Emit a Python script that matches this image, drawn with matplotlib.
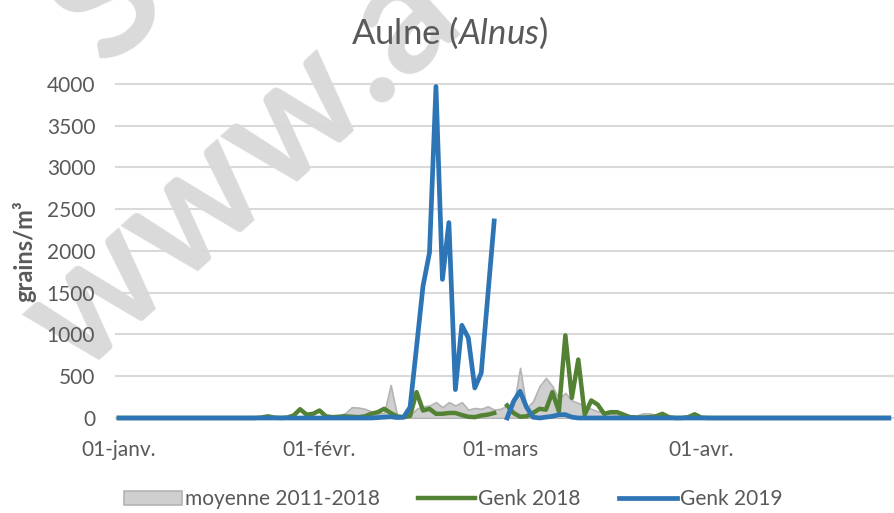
import numpy as np
import pandas as pd
import matplotlib
matplotlib.use('Agg')
import matplotlib.pyplot as plt
from matplotlib.patches import Patch
from matplotlib.lines import Line2D

plt.rcParams['font.family'] = ['Lato', 'DejaVu Sans']
plt.rcParams['mathtext.fontset'] = 'custom'
plt.rcParams['mathtext.rm'] = 'Lato'
plt.rcParams['mathtext.it'] = 'Lato:italic'

# daily pollen counts, 01-jan .. 30-apr
days = pd.date_range('2019-01-01', '2019-04-30', freq='D')
nan = np.nan

moyenne = [0] * 20 + [
    0, 5, 10, 20, 10, 5, 5, 5, 5, 5,
    10, 10, 15, 20, 30, 60, 130, 125, 110, 80,
    55, 60, 395, 30, 15, 30, 110, 140, 150, 190,
    130, 190, 150, 190, 100, 120, 110, 140, 100, 110,
    150, 150, 600, 120, 200, 380, 480, 380, 230, 300,
    210, 180, 140, 110, 80, 70, 50, 40, 35, 30,
    30, 55, 55, 35, 30, 20, 15, 15, 20, 15,
    10, 5, 5, 5, 5, 5] + [0] * 24

genk_2018 = [0] * 20 + [
    0, 0, 5, 20, 5, 0, 5, 30, 105, 40,
    50, 90, 20, 10, 15, 20, 15, 10, 20, 50,
    70, 110, 60, 20, 10, 25, 310, 90, 110, 50,
    50, 60, 60, 35, 15, 10, 30, 40, 60, nan,
    150, 60, 15, 20, 60, 110, 100, 310, 80, 990,
    240, 700, 40, 210, 160, 50, 70, 70, 40, 10,
    5, 5, 10, 20, 50, 10, 0, 0, 10, 45,
    5] + [0] * 29

genk_2019 = [0] * 40 + [
    5, 10, 15, 5, 10, 130, 850, 1580, 1980, 3970,
    1660, 2340, 340, 1110, 960, 360, 540, 1450, 2360, nan,
    0, 200, 320, 130, 10, 0, 10, 20, 40, 40,
    10] + [0] * 49

x = np.arange(len(days))
tick_pos = x[days.day == 1]
tick_labels = ['01-janv.', '01-févr.', '01-mars', '01-avr.']

txt = '#595959'
fig = plt.figure(figsize=(8.94, 5.13), dpi=100)
ax = fig.add_axes([0.1298, 0.1852, 0.8702, 0.6511])
ax.set_facecolor('none')

ax.fill_between(x, moyenne, color='#d0cfcf', edgecolor='#b4b4b4', lw=1.2, zorder=2)
ax.plot(x, genk_2018, color='#548235', lw=3.2, zorder=3, clip_on=False, solid_joinstyle='round')
ax.plot(x, genk_2019, color='#2e75b6', lw=3.4, zorder=4, clip_on=False, solid_joinstyle='round')

ax.set_ylim(0, 4000)
ax.set_xlim(-0.45, 119.8)
ax.set_yticks(np.arange(0, 4001, 500))
ax.set_xticks(tick_pos)
ax.set_xticklabels(tick_labels)
ax.yaxis.grid(True, color='#d9d9d9', lw=1.5, clip_on=False)
ax.set_axisbelow(True)
for s in ax.spines.values():
    s.set_visible(False)
ax.tick_params(length=0, labelsize=15, labelcolor=txt)
ax.tick_params(axis='x', pad=16)
ax.tick_params(axis='y', pad=15)
ax.set_ylabel('grains/m³', fontsize=17, fontweight='bold', color=txt)
ax.yaxis.set_label_coords(-0.102, 0.5)

fig.text(0.503, 0.935, 'Aulne ($\\mathit{Alnus}$)', fontsize=25, color=txt, ha='center', va='center')

# watermark, behind the chart
fig.text(0.27, 0.675, 'www.a', fontsize=120, color='#dadada', rotation=42, fontweight='bold',
         rotation_mode='anchor', ha='center', va='center', zorder=-1)
fig.text(0.12, 0.995, 'S', fontsize=120, color='#dadada', rotation=42, fontweight='bold',
         rotation_mode='anchor', ha='center', va='center', zorder=-1)

handles = [Patch(facecolor='#d0cfcf', edgecolor='#b4b4b4', lw=1.2),
           Line2D([], [], color='#548235', lw=3.2),
           Line2D([], [], color='#2e75b6', lw=3.4)]
fig.legend(handles, ['moyenne 2011-2018', 'Genk 2018', 'Genk 2019'], loc='center',
           bbox_to_anchor=(0.507, 0.027), ncol=3, frameon=False, fontsize=15,
           handlelength=2.75, handletextpad=0.15, columnspacing=1.85, labelcolor=txt)

fig.savefig('out.png', dpi=100)
